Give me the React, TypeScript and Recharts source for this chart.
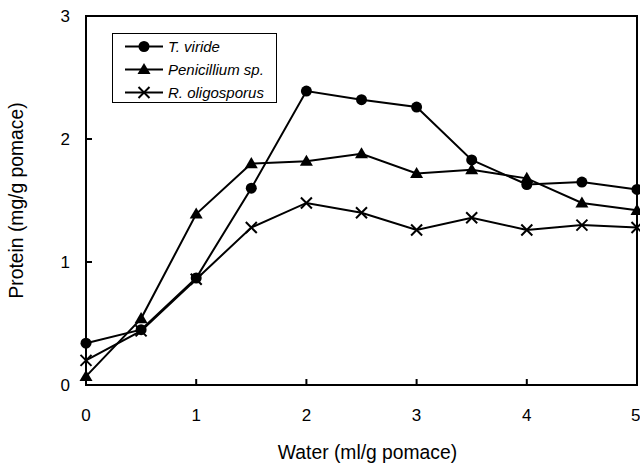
import {
  LineChart,
  Line,
  XAxis,
  YAxis,
  ReferenceArea,
} from 'recharts';

const water = [0, 0.5, 1, 1.5, 2, 2.5, 3, 3.5, 4, 4.5, 5];
const tViride = [0.34, 0.45, 0.87, 1.6, 2.39, 2.32, 2.26, 1.83, 1.63, 1.65, 1.59];
const penicillium = [0.07, 0.54, 1.39, 1.8, 1.82, 1.88, 1.72, 1.75, 1.68, 1.48, 1.42];
const rOligosporus = [0.2, 0.44, 0.86, 1.28, 1.48, 1.4, 1.26, 1.36, 1.26, 1.3, 1.28];
const xTicks = [0, 1, 2, 3, 4, 5];
const yTicks = [0, 1, 2, 3];
const seriesNames = ['T. viride', 'Penicillium sp.', 'R. oligosporus'];

const data = water.map((w, i) => ({
  water: w,
  tv: tViride[i],
  pen: penicillium[i],
  ro: rOligosporus[i],
}));

const FONT = '"Liberation Sans", Arial, Helvetica, sans-serif';

function CircleDot(p: any) {
  if (p.cx == null || p.cy == null) return <g key={p.key} />;
  return <circle key={p.key} cx={p.cx} cy={p.cy} r={5.5} fill="#000" />;
}

function TriDot(p: any) {
  if (p.cx == null || p.cy == null) return <g key={p.key} />;
  const { cx, cy } = p;
  const s = 6.5;
  return (
    <polygon
      key={p.key}
      points={`${cx},${cy - s} ${cx - s},${cy + s * 0.7} ${cx + s},${cy + s * 0.7}`}
      fill="#000"
    />
  );
}

function CrossDot(p: any) {
  if (p.cx == null || p.cy == null) return <g key={p.key} />;
  const { cx, cy } = p;
  const s = 5.5;
  return (
    <path
      key={p.key}
      d={`M${cx - s},${cy - s}L${cx + s},${cy + s}M${cx - s},${cy + s}L${cx + s},${cy - s}`}
      stroke="#000"
      strokeWidth={2}
    />
  );
}

const markers = [CircleDot, TriDot, CrossDot];

// legend box sits inside the plot, top-left
function LegendBox() {
  return (
    <div
      style={{
        position: 'absolute',
        left: 112,
        top: 33,
        width: 165,
        height: 70,
        border: '1px solid #000',
        background: '#fff',
        boxSizing: 'border-box',
        padding: '1px 0 0 12px',
        fontFamily: FONT,
        fontStyle: 'italic',
        fontSize: 15,
      }}
    >
      {seriesNames.map((name, i) => {
        const M = markers[i];
        return (
          <div key={name} style={{ display: 'flex', alignItems: 'center', height: 23 }}>
            <svg width={38} height={23} style={{ marginRight: 5 }}>
              <line x1={0} y1={11.5} x2={38} y2={11.5} stroke="#000" strokeWidth={2} />
              <M cx={19} cy={11.5} />
            </svg>
            <span>{name}</span>
          </div>
        );
      })}
    </div>
  );
}

export default function App() {
  return (
    <div style={{ position: 'absolute', left: 0, top: 0, width: 640, height: 471, background: '#fff' }}>
      <LineChart
        width={640}
        height={471}
        data={data}
        margin={{ top: 16, right: 3, bottom: 26, left: 0 }}
        style={{ fontFamily: FONT }}
      >
        <ReferenceArea
          x1={0}
          x2={5}
          y1={0}
          y2={3}
          fill="none"
          stroke="#000"
          strokeWidth={2}
          ifOverflow="visible"
        />
        <XAxis
          dataKey="water"
          type="number"
          domain={[0, 5]}
          ticks={xTicks}
          height={60}
          tickSize={-6}
          tickMargin={30}
          axisLine={{ stroke: '#000', strokeWidth: 2 }}
          tickLine={{ stroke: '#000', strokeWidth: 2 }}
          tick={{ fill: '#000', fontSize: 17 }}
          label={{ value: 'Water (ml/g pomace)', position: 'insideBottom', offset: 0, fill: '#000', fontSize: 19.3, dy: 14, dx: 6 }}
        />
        <YAxis
          type="number"
          domain={[0, 3]}
          ticks={yTicks}
          width={86}
          tickSize={-6}
          tickMargin={22}
          axisLine={{ stroke: '#000', strokeWidth: 2 }}
          tickLine={{ stroke: '#000', strokeWidth: 2 }}
          tick={{ fill: '#000', fontSize: 17 }}
          label={{ value: 'Protein (mg/g pomace)', angle: -90, position: 'insideLeft', offset: 16, fill: '#000', fontSize: 19.3, style: { textAnchor: 'middle' } }}
        />
        <Line dataKey="tv" name={seriesNames[0]} stroke="#000" strokeWidth={2} dot={CircleDot} isAnimationActive={false} />
        <Line dataKey="pen" name={seriesNames[1]} stroke="#000" strokeWidth={2} dot={TriDot} isAnimationActive={false} />
        <Line dataKey="ro" name={seriesNames[2]} stroke="#000" strokeWidth={2} dot={CrossDot} isAnimationActive={false} />
      </LineChart>
      <LegendBox />
    </div>
  );
}
